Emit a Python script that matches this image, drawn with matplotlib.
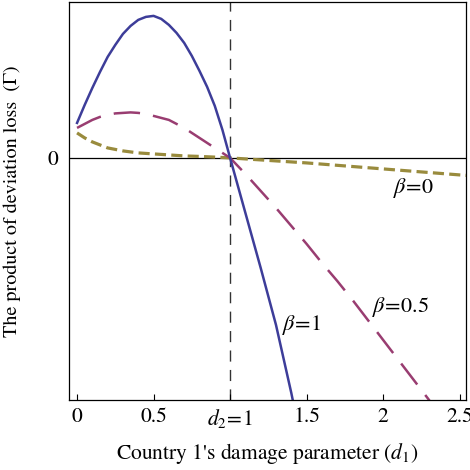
import numpy as np
import matplotlib
matplotlib.use("Agg")
import matplotlib.pyplot as plt

plt.rcParams["font.family"] = "STIXGeneral"
plt.rcParams["mathtext.fontset"] = "stix"
plt.rcParams["lines.scale_dashes"] = False

# values (y in arbitrary units, 0 = the zero line)
x_b1 = [0, 0.05, 0.1, 0.15, 0.2, 0.25, 0.3, 0.35, 0.4, 0.45, 0.5, 0.55, 0.6,
        0.65, 0.7, 0.75, 0.8, 0.85, 0.9, 0.95, 1.0, 1.1, 1.2, 1.3, 1.4, 1.42]
y_b1 = [0.35, 0.53, 0.70, 0.86, 1.01, 1.13, 1.24, 1.32, 1.38, 1.41, 1.42, 1.39, 1.33,
        1.25, 1.15, 1.02, 0.87, 0.71, 0.52, 0.28, 0.0, -0.55, -1.10, -1.67, -2.35, -2.5]

x_b05 = [0, 0.05, 0.1, 0.15, 0.2, 0.25, 0.3, 0.35, 0.4, 0.45, 0.5, 0.55, 0.6, 0.65,
         0.7, 0.75, 0.8, 0.85, 0.9, 0.95, 1.0, 1.1, 1.2, 1.3, 1.4, 1.5, 1.6, 1.7,
         1.8, 1.9, 2.0, 2.1, 2.2, 2.3, 2.32]
y_b05 = [0.30, 0.34, 0.38, 0.41, 0.43, 0.445, 0.45, 0.455, 0.45, 0.44, 0.42, 0.40, 0.38, 0.34,
         0.30, 0.25, 0.20, 0.15, 0.10, 0.05, 0.0, -0.16, -0.33, -0.50, -0.68, -0.86, -1.05, -1.23,
         -1.42, -1.62, -1.82, -2.02, -2.22, -2.42, -2.47]

x_b0 = [0, 0.05, 0.1, 0.15, 0.2, 0.3, 0.4, 0.5, 0.6, 0.7, 0.8, 0.9, 1.0, 1.5, 2.0, 2.5, 2.55]
y_b0 = [0.25, 0.20, 0.16, 0.13, 0.10, 0.07, 0.05, 0.04, 0.03, 0.02, 0.015, 0.008, 0.0,
        -0.05, -0.11, -0.17, -0.175]

xticks = [0, 0.5, 1, 1.5, 2, 2.5]
xticklabels = ["0", "0.5", "$d_2\\!=\\!1$", "1.5", "2", "2.5"]

blue = "#3d3d99"
purple = "#993d71"
olive = "#998b3d"

fig = plt.figure(figsize=(4.7, 4.7), dpi=100)
ax = fig.add_axes([0.147, 0.149, 0.844, 0.847])

ax.axhline(0, color="black", lw=0.9, zorder=1)
ax.axvline(1, color="#333333", lw=1.0, dashes=(8, 6), zorder=1)

ax.plot(x_b0, y_b0, color=olive, lw=2.3, dashes=(8, 3.8))
ax.plot(x_b05, y_b05, color=purple, lw=1.8, dashes=(19, 9.5))
ax.plot(x_b1, y_b1, color=blue, lw=1.8)

ax.text(2.2, -0.30, "$\\beta\\!=\\!0$", fontsize=16, ha="center", va="center")
ax.text(2.11, -1.49, "$\\beta\\!=\\!0.5$", fontsize=16, ha="center", va="center")
ax.text(1.47, -1.67, "$\\beta\\!=\\!1$", fontsize=16, ha="center", va="center")

ax.set_xlim(-0.052, 2.54)
ax.set_ylim(-2.42, 1.56)
ax.set_xticks(xticks)
ax.set_xticklabels(xticklabels)
ax.set_yticks([0])
ax.set_yticklabels(["0"])
ax.tick_params(axis="x", direction="in", length=4, width=0.8, labelsize=15.5, pad=5)
ax.tick_params(axis="y", length=0, labelsize=15.5, pad=8)
for s in ax.spines.values():
    s.set_linewidth(0.9)

ax.set_xlabel("Country 1's damage parameter ($d_1$)", fontsize=15.5, labelpad=8)
ax.set_ylabel("The product of deviation loss  (Γ)", fontsize=14.5, labelpad=10)
ax.yaxis.set_label_coords(-0.122, 0.5)

fig.savefig("out.png", dpi=100)
